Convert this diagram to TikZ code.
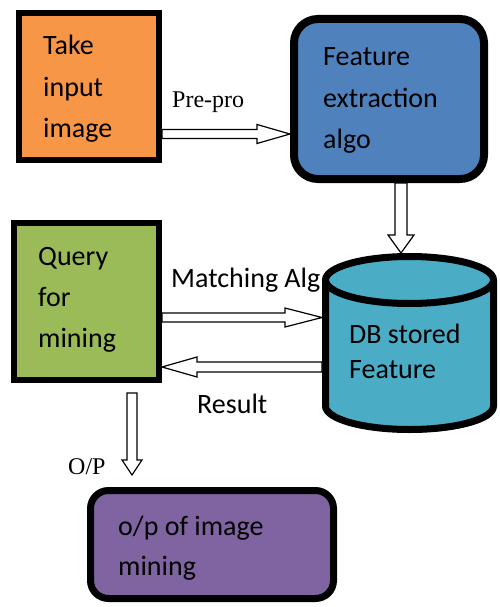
\documentclass[tikz,border=0pt]{standalone}
\usepackage{fontspec}
\setmainfont{Carlito}
\newfontfamily\tnr{Liberation Serif}
\usetikzlibrary{calc}
\definecolor{corange}{HTML}{F79646}
\definecolor{cblue}{HTML}{4F81BD}
\definecolor{cblueS}{HTML}{2C4D75}
\definecolor{cgreen}{HTML}{9BBB59}
\definecolor{cteal}{HTML}{4BACC6}
\definecolor{ctealS}{HTML}{215968}
\definecolor{cpurple}{HTML}{8064A2}
\definecolor{cpurpleS}{HTML}{3F3151}
\tikzset{
  box/.style={draw=black, inner sep=0pt},
  txt/.style={inner sep=0pt, anchor=base west, align=left, font=\fontsize{28}{41}\selectfont},
  lbl/.style={inner sep=0pt, anchor=base west, font=\fontsize{28}{34}\selectfont},
  tlbl/.style={inner sep=0pt, anchor=base west, font=\tnr\fontsize{24}{28}\selectfont},
  arr/.style={draw=black, fill=white, line width=1.2pt, line join=miter},
}
% hollow arrows: from, to, position, shaft half, head half, head length
\newcommand\arrR[6]{\path[arr] let \p1=(#1), \p2=(#2) in
  (\x1,#3+#4) -- (\x2-#6,#3+#4) -- (\x2-#6,#3+#5) -- (\x2,#3) -- (\x2-#6,#3-#5) -- (\x2-#6,#3-#4) -- (\x1,#3-#4) -- cycle;}
\newcommand\arrL[6]{\path[arr] let \p1=(#1), \p2=(#2) in
  (\x1,#3+#4) -- (\x2+#6,#3+#4) -- (\x2+#6,#3+#5) -- (\x2,#3) -- (\x2+#6,#3-#5) -- (\x2+#6,#3-#4) -- (\x1,#3-#4) -- cycle;}
\newcommand\arrD[6]{\path[arr] let \p1=(#1), \p2=(#2) in
  (#3-#4,\y1) -- (#3-#4,\y2+#6) -- (#3-#5,\y2+#6) -- (#3,\y2) -- (#3+#5,\y2+#6) -- (#3+#4,\y2+#6) -- (#3+#4,\y1) -- cycle;}
\begin{document}
\begin{tikzpicture}[x=1pt,y=1pt]
\useasboundingbox (0,0) rectangle (500,-607);
\fill[white] (0,0) rectangle (500,-607);

% orange box
\node[box, line width=6pt, fill=corange, minimum width=140pt, minimum height=147pt] (take) at (89,-86.5) {};
\node[txt] (ttake) at (43,-137) {Take\\input\\image};

% blue box
\fill[cblueS, rounded corners=26pt] (296,-21) rectangle (487,-182);
\node[box, line width=8pt, fill=cblue, rounded corners=24pt, minimum width=190pt, minimum height=160pt] (feat) at (389,-99) {};
\node[txt] (tfeat) at (323,-148) {Feature\\extraction\\algo};

% green box
\node[box, line width=6pt, fill=cgreen, minimum width=145pt, minimum height=157pt] (query) at (86.5,-301.5) {};
\node[txt] (tquery) at (38,-347) {Query\\for\\mining};

% labels
\node[tlbl] (lpre) at (172,-107) {Pre-pro};
\node[lbl] (lmatch) at (171,-287) {Matching Alg};
\node[lbl] (lres) at (197,-413) {Result};
\node[tlbl] (lop) at (68,-474) {O/P};

% cylinder
\node[inner sep=0pt, outer sep=0pt, minimum width=175pt, minimum height=180pt] (db) at (409.5,-343) {};
\fill[ctealS] (327.5,-283) -- (327.5,-409) arc (180:360:84 and 23.5) -- (495.5,-283) arc (0:180:84 and 23.5) -- cycle;
\path[draw=black, fill=cteal, line width=7pt] (325.5,-280) -- (325.5,-406) arc (180:360:84 and 23.5) -- (493.5,-280) arc (0:180:84 and 23.5) -- cycle;
\draw[black, line width=7pt] (325.5,-280) arc (180:360:84 and 23.5);
\node[inner sep=0pt, anchor=base west, align=left, font=\fontsize{28}{35}\selectfont] (tdb) at (349,-378) {DB stored\\Feature};

% purple box
\fill[cpurpleS, rounded corners=19pt] (92,-493) rectangle (336,-601);
\node[box, line width=7pt, fill=cpurple, rounded corners=18pt, minimum width=243pt, minimum height=108pt] (out) at (212,-544.5) {};
\node[inner sep=0pt, anchor=base west, align=left, font=\fontsize{28}{40}\selectfont] (tout) at (118,-575) {o/p of image\\mining};

% arrows
\arrR{take.east}{feat.west}{-134pt}{4.5}{9.5}{33}
\arrD{feat.south}{db.north}{401pt}{6}{13}{18}
\arrR{query.east}{db.west}{-317.5pt}{4.5}{9.5}{37}
\arrL{db.west}{query.east}{-367pt}{5}{10}{35}
\arrD{$(query.south)+(0,-10)$}{$(out.north)+(0,12)$}{132pt}{5}{10}{15}
\end{tikzpicture}
\end{document}
